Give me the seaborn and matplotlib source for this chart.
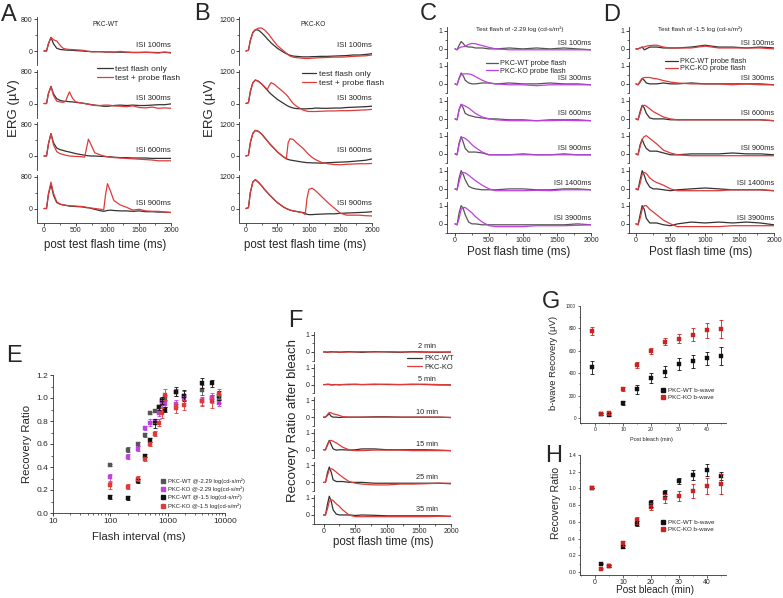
import seaborn as sns
import matplotlib.pyplot as plt
from matplotlib.lines import Line2D
from matplotlib.ticker import MultipleLocator, NullFormatter

W, H = 783, 598

# ---------- data ----------
# time grid for panels A/B (ms)
t_ab = [0, 40, 70, 110, 150, 200, 250, 300, 340, 370, 400, 450, 500, 600, 640, 670, 700,
        750, 800, 900, 940, 970, 1000, 1050, 1100, 1200, 1300, 1400, 1500, 1600, 1700,
        1800, 1900, 2000]
isi_ab = ['ISI 100ms', 'ISI 300ms', 'ISI 600ms', 'ISI 900ms']

# A: PKC-WT (uV)
a_test = [
    [0, 0, 180, 340, 180, 70, 40, 30, 25, 20, 20, 15, 10, 0, -5, -10, -10, -15, -15, -20, -20,
     -25, -25, -25, -30, -30, -30, -35, -35, -30, -35, -40, -30, -40],
    [0, 0, 250, 430, 240, 120, 80, 60, 55, 50, 45, 40, 30, 10, 0, -10, -15, -30, -40, -60, -70,
     -70, -70, -60, -50, -40, -50, -40, -50, -50, -40, -30, -30, -10],
    [0, 0, 300, 560, 330, 200, 160, 140, 120, 110, 100, 80, 60, 30, 20, 10, 5, 0, 0, -10, -10,
     -15, -20, -20, -30, -40, -40, -50, -50, -50, -60, -60, -60, -60],
    [0, 0, 350, 600, 330, 150, 110, 90, 80, 70, 60, 55, 50, 40, 30, 20, 20, 0, -20, -60, -70,
     -60, -50, -40, -50, -60, -60, -70, -60, -80, -80, -90, -90, -100],
]
a_probe = [
    [0, 0, 180, 340, 280, 250, 150, 70, 50, 45, 40, 35, 30, 20, 10, 0, -10, -20, -20, -15, -20,
     -25, -30, -20, -30, -10, -30, -40, -40, -35, -40, -50, -30, -50],
    [0, 0, 250, 420, 200, 60, 40, 30, 50, 180, 290, 130, 40, 10, 0, -10, -20, -35, -50, -50, -40,
     -40, -40, -45, -60, -70, -80, -60, -100, -110, -90, -120, -110, -120],
    [0, 0, 300, 560, 280, 110, 60, 40, 20, 10, 0, -5, -10, -20, -30, 200, 420, 250, 80, 20, 0,
     -10, -20, -30, -40, -50, -60, -70, -80, -90, -100, -120, -120, -120],
    [0, 0, 370, 660, 380, 170, 110, 90, 80, 75, 70, 65, 60, 50, 40, 30, 20, 10, 0, -20, -40,
     350, 620, 420, 200, 90, 30, -40, -20, -60, -70, -70, -90, -100],
]
# B: PKC-KO (uV)
b_test = [
    [0, 30, 400, 700, 800, 780, 680, 560, 450, 380, 300, 200, 100, -50, -100, -130, -160, -190,
     -200, -220, -220, -220, -220, -210, -210, -200, -200, -190, -180, -170, -150, -150, -130, -100],
    [0, 30, 450, 780, 880, 830, 730, 600, 500, 420, 350, 250, 150, 0, -60, -100, -130, -170,
     -190, -200, -200, -200, -190, -190, -170, -180, -180, -170, -170, -150, -140, -130, -120, -100],
    [0, 30, 500, 850, 960, 920, 820, 680, 570, 480, 400, 280, 150, -40, -100, -130, -150, -170,
     -190, -230, -240, -250, -250, -260, -260, -270, -250, -240, -230, -220, -200, -180, -160, -110],
    [0, 30, 600, 1000, 1080, 980, 850, 700, 600, 520, 450, 330, 220, 50, 0, -30, -60, -90,
     -110, -150, -170, -220, -230, -230, -220, -210, -200, -200, -180, -170, -160, -150, -140, -120],
]
b_probe = [
    [0, 30, 400, 680, 800, 860, 860, 780, 680, 600, 500, 350, 200, 0, -80, -140, -190, -230,
     -250, -270, -280, -280, -280, -270, -260, -250, -240, -230, -230, -220, -200, -190, -180, -150],
    [0, 30, 450, 780, 880, 830, 730, 620, 530, 680, 780, 720, 620, 420, 330, 250, 150, 0,
     -100, -240, -270, -290, -300, -300, -300, -290, -280, -280, -270, -270, -260, -250, -240, -220],
    [0, 30, 500, 850, 960, 920, 820, 680, 570, 480, 400, 280, 150, -40, -110, 500, 650, 620,
     500, 300, 200, 120, 50, -50, -130, -240, -290, -320, -330, -310, -300, -290, -290, -280],
    [0, 30, 600, 1000, 1080, 980, 850, 700, 600, 520, 450, 330, 220, 50, 0, -30, -60, -90,
     -110, -160, -230, 400, 720, 760, 680, 450, 220, 20, -180, -250, -250, -250, -270, -280],
]

# time grid for panels C/D/F (ms)
t_cdf = [0, 30, 60, 90, 120, 150, 200, 250, 300, 400, 500, 600, 800, 1000, 1200, 1400, 1600,
         1800, 2000]
isi_cd = ['ISI 100ms', 'ISI 300ms', 'ISI 600ms', 'ISI 900ms', 'ISI 1400ms', 'ISI 3900ms']

# C: test flash -2.29 log, normalised probe response
c_wt = [
    [0, -0.05, 0.2, 0.4, 0.3, 0.15, 0.1, 0.1, 0.05, 0.05, 0.0, 0.0, 0.05, 0.0, 0.05, 0.0, 0.05, 0.0, -0.05],
    [0, -0.05, 0.3, 0.6, 0.45, 0.2, 0.05, 0.0, 0.0, 0.05, 0.05, 0.0, 0.05, 0.0, 0.0, 0.05, 0.0, 0.0, -0.05],
    [0, -0.05, 0.5, 0.8, 0.6, 0.3, 0.2, 0.15, 0.1, 0.05, 0.0, 0.0, -0.05, -0.05, -0.1, -0.05, -0.05, -0.05, -0.1],
    [0, -0.05, 0.6, 0.95, 0.65, 0.3, 0.1, 0.1, 0.1, 0.05, -0.05, -0.05, -0.05, 0.0, -0.05, -0.05, 0.0, -0.05, -0.05],
    [0, -0.05, 0.6, 1.0, 0.8, 0.5, 0.15, 0.05, 0.0, -0.05, -0.05, -0.05, 0.0, 0.0, -0.05, -0.05, 0.0, 0.0, -0.05],
    [0, -0.05, 0.6, 1.0, 0.85, 0.5, 0.1, 0.0, 0.0, -0.05, -0.05, -0.05, -0.05, -0.05, -0.05, -0.05, -0.05, 0.0, -0.05],
]
c_ko = [
    [0, -0.05, 0.05, 0.1, 0.12, 0.15, 0.25, 0.3, 0.28, 0.18, 0.08, 0.0, -0.05, -0.05, -0.05, -0.05, -0.05, -0.05, -0.05],
    [0, -0.05, 0.3, 0.5, 0.55, 0.55, 0.55, 0.5, 0.4, 0.2, 0.05, 0.0, -0.05, -0.05, -0.1, -0.05, -0.05, -0.05, -0.05],
    [0, -0.05, 0.5, 0.8, 0.75, 0.7, 0.6, 0.45, 0.3, 0.1, 0.0, -0.05, -0.1, -0.1, -0.1, -0.1, -0.08, -0.1, -0.1],
    [0, -0.05, 0.5, 0.9, 0.9, 0.85, 0.7, 0.5, 0.35, 0.1, -0.05, -0.05, -0.05, -0.05, -0.05, -0.05, -0.05, -0.05, -0.05],
    [0, -0.05, 0.4, 0.8, 0.9, 0.88, 0.75, 0.6, 0.45, 0.2, 0.0, -0.1, -0.1, -0.1, -0.08, -0.1, -0.05, -0.05, -0.05],
    [0, -0.05, 0.3, 0.8, 0.9, 0.9, 0.75, 0.6, 0.4, 0.1, -0.1, -0.15, -0.15, -0.15, -0.1, -0.1, -0.1, -0.08, -0.05],
]
# D: test flash -1.5 log
d_wt = [
    [0, 0.0, 0.05, 0.1, -0.05, 0.0, 0.1, 0.1, 0.1, 0.05, 0.05, 0.05, 0.1, 0.2, 0.1, 0.1, 0.05, 0.1, 0.05],
    [0, -0.05, 0.1, 0.3, 0.2, 0.05, 0.0, 0.0, 0.0, 0.05, 0.0, 0.0, 0.05, 0.0, 0.0, 0.0, 0.0, 0.0, -0.05],
    [0, -0.05, 0.4, 0.75, 0.6, 0.3, 0.05, 0.0, 0.0, 0.0, -0.05, -0.05, -0.05, -0.05, -0.05, -0.05, -0.05, -0.05, -0.1],
    [0, -0.05, 0.5, 0.8, 0.5, 0.3, 0.15, 0.15, 0.15, 0.05, -0.05, -0.05, 0.0, 0.0, 0.0, 0.05, 0.0, 0.0, -0.05],
    [0, -0.05, 0.5, 1.0, 0.75, 0.4, 0.1, 0.0, 0.0, -0.05, -0.1, -0.05, 0.0, 0.05, 0.0, -0.05, -0.05, -0.05, -0.1],
    [0, -0.05, 0.5, 1.0, 0.8, 0.3, 0.05, 0.05, 0.05, -0.05, -0.1, 0.0, 0.1, 0.05, 0.1, 0.05, 0.1, 0.05, -0.05],
]
d_ko = [
    [0, 0.0, 0.05, 0.1, 0.1, 0.15, 0.18, 0.2, 0.2, 0.1, 0.05, 0.05, 0.05, 0.15, 0.05, 0.05, 0.05, 0.05, 0.0],
    [0, -0.05, 0.15, 0.3, 0.35, 0.35, 0.35, 0.3, 0.28, 0.18, 0.1, 0.05, 0.0, 0.0, 0.0, -0.05, 0.0, -0.05, -0.05],
    [0, -0.05, 0.3, 0.7, 0.75, 0.7, 0.55, 0.4, 0.3, 0.1, 0.0, -0.05, -0.05, -0.05, -0.05, -0.05, -0.05, -0.05, -0.1],
    [0, -0.05, 0.4, 0.8, 0.95, 1.0, 0.85, 0.7, 0.55, 0.2, 0.05, -0.05, -0.1, -0.1, -0.1, -0.1, -0.1, -0.1, -0.1],
    [0, -0.05, 0.3, 0.8, 0.9, 0.85, 0.6, 0.45, 0.35, 0.2, 0.0, -0.1, -0.1, -0.1, -0.1, -0.05, -0.05, -0.05, -0.1],
    [0, -0.05, 0.3, 0.8, 1.0, 1.0, 0.8, 0.65, 0.5, 0.2, 0.0, -0.15, -0.15, -0.15, -0.15, -0.1, -0.1, -0.1, -0.1],
]

# F: recovery after bleach
bleach_f = ['2 min', '5 min', '10 min', '15 min', '25 min', '35 min']
f_wt = [
    [0, 0.0, -0.02, 0.0, 0.02, 0.0, 0.0, -0.02, 0.0, 0.02, 0.0, -0.02, 0.02, 0.0, -0.02, 0.02, 0.0, -0.02, 0.0],
    [0, 0.0, 0.02, 0.0, -0.02, 0.0, 0.0, -0.02, 0.0, 0.0, 0.02, 0.0, 0.02, 0.0, 0.0, 0.02, 0.0, -0.02, -0.02],
    [0, 0.0, 0.1, 0.2, 0.05, 0.0, 0.0, -0.02, 0.0, 0.0, 0.0, 0.0, 0.02, 0.02, 0.0, 0.0, 0.0, 0.0, -0.02],
    [0, 0.0, 0.3, 0.55, 0.3, 0.05, -0.02, 0.0, 0.0, -0.02, 0.0, 0.05, 0.05, 0.0, 0.0, 0.0, 0.0, -0.02, -0.05],
    [0, 0.0, 0.55, 0.9, 0.6, 0.15, 0.05, 0.05, 0.05, 0.0, 0.0, 0.0, -0.05, -0.05, -0.05, -0.05, -0.05, -0.05, -0.08],
    [0, 0.0, 0.6, 1.1, 0.8, 0.3, 0.05, 0.0, 0.0, 0.0, -0.03, 0.0, -0.02, -0.05, -0.05, -0.05, -0.05, -0.05, -0.08],
]
f_ko = [
    [0, 0.0, 0.0, -0.02, 0.0, 0.02, 0.0, 0.0, -0.02, 0.0, 0.0, 0.02, 0.0, 0.02, 0.0, 0.0, -0.02, 0.0, -0.02],
    [0, 0.0, 0.0, 0.02, 0.0, -0.02, 0.0, 0.0, 0.0, 0.02, 0.0, 0.0, 0.0, 0.02, 0.0, 0.0, 0.02, 0.0, -0.02],
    [0, 0.0, 0.15, 0.28, 0.25, 0.2, 0.15, 0.1, 0.03, 0.0, 0.0, 0.0, 0.0, 0.0, 0.0, 0.0, 0.0, 0.0, -0.02],
    [0, 0.0, 0.25, 0.5, 0.55, 0.5, 0.4, 0.28, 0.15, 0.0, -0.05, -0.05, -0.02, -0.02, -0.02, -0.05, -0.05, -0.05, -0.05],
    [0, 0.0, 0.4, 0.75, 0.8, 0.75, 0.6, 0.45, 0.3, 0.05, -0.05, -0.1, -0.15, -0.15, -0.1, -0.1, -0.08, -0.05, -0.05],
    [0, 0.0, 0.35, 0.8, 0.9, 0.85, 0.65, 0.5, 0.3, 0.0, -0.1, -0.1, -0.1, -0.1, -0.1, -0.1, -0.1, -0.08, -0.08],
]

# E: recovery ratio vs flash interval
e_interval = [100, 200, 300, 400, 500, 600, 700, 800, 900, 1400, 1900, 3900, 5900, 7900]
e_wt229 = [0.415, 0.55, 0.60, 0.68, 0.87, 0.89, 0.92, 0.97, 1.00, 1.05, 1.02, 1.07, 1.00, 0.99]
e_wt229_err = [0.01, 0.02, 0.02, 0.02, 0.01, 0.01, 0.02, 0.03, 0.03, 0.03, 0.04, 0.04, 0.03, 0.03]
e_ko229 = [0.31, 0.49, 0.56, 0.74, 0.785, 0.80, 0.87, 0.95, 0.95, 0.95, 0.99, 0.97, 1.00, 0.96]
e_ko229_err = [0.03, 0.02, 0.02, 0.02, 0.03, 0.02, 0.03, 0.03, 0.03, 0.03, 0.03, 0.03, 0.04, 0.03]
e_wt15 = [0.14, 0.13, 0.28, 0.50, 0.635, 0.78, 0.92, 0.98, 0.90, 1.055, 1.02, 1.13, 1.13, 1.02]
e_wt15_err = [0.015, 0.02, 0.02, 0.01, 0.02, 0.04, 0.02, 0.03, 0.02, 0.04, 0.05, 0.04, 0.03, 0.04]
e_ko15 = [0.24, 0.23, 0.30, 0.47, 0.60, 0.69, 0.785, 0.87, 1.03, 0.91, 0.94, 0.97, 0.97, 1.035]
e_ko15_err = [0.03, 0.02, 0.02, 0.02, 0.02, 0.02, 0.03, 0.04, 0.05, 0.04, 0.04, 0.04, 0.06, 0.04]
e_labels = ['PKC-WT @-2.29 log(cd-s/m\u00b2)', 'PKC-KO @-2.29 log(cd-s/m\u00b2)',
            'PKC-WT @-1.5 log(cd-s/m\u00b2)', 'PKC-KO @-1.5 log(cd-s/m\u00b2)']
e_xticks = [10, 100, 1000, 10000]

# G/H: b-wave recovery after bleach
g_time = [-1, 2, 5, 10, 15, 20, 25, 30, 35, 40, 45]
g_wt = [451, 35, 30, 132, 257, 359, 413, 481, 505, 532, 556]
g_wt_err = [60, 10, 15, 20, 40, 45, 50, 55, 55, 60, 80]
g_ko = [780, 33, 40, 260, 473, 598, 682, 706, 745, 783, 798]
g_ko_err = [35, 10, 10, 20, 25, 25, 30, 40, 55, 65, 80]
h_wt = [1.0, 0.10, 0.07, 0.305, 0.575, 0.82, 0.945, 1.09, 1.16, 1.22, 1.15]
h_wt_err = [0.0, 0.01, 0.01, 0.02, 0.03, 0.04, 0.04, 0.04, 0.06, 0.07, 0.05]
h_ko = [1.0, 0.04, 0.07, 0.345, 0.62, 0.78, 0.88, 0.91, 0.97, 1.03, 1.05]
h_ko_err = [0.0, 0.01, 0.01, 0.03, 0.04, 0.04, 0.05, 0.065, 0.08, 0.1, 0.12]

# ---------- style ----------
sns.set_style("ticks")
plt.rcParams['font.family'] = ['Liberation Sans', 'DejaVu Sans']
plt.rcParams['axes.linewidth'] = 0.6
plt.rcParams['axes.edgecolor'] = '#333333'

BLACK = '#333333'
GREY = '#555555'
RED = '#e03a3a'
PURPLE = '#c040e0'

fig = plt.figure(figsize=(W / 100, H / 100), dpi=100)


def box(l, t, r, b):
    return fig.add_axes([l / W, 1 - b / H, (r - l) / W, (b - t) / H])


def ftext(x, y, s, **kw):
    return fig.text(x / W, 1 - y / H, s, **kw)


def flegend(handles, labels, x, y, fs, **kw):
    fig.legend(handles, labels, loc='upper left', bbox_to_anchor=(x / W, 1 - y / H),
               frameon=False, fontsize=fs, borderpad=0, borderaxespad=0, **kw)


def stack(l, r, top0, pitch, h, x0, ylim, ytop, t, groups, labels,
          lab_x=2000, lab_ha='right', fs=5.3, tick_fs=5):
    n = len(labels)
    for i in range(n):
        top = top0 + i * pitch
        ax = box(l, top, r, top + h)
        ax.patch.set_alpha(0)
        for vals, col in groups:
            sns.lineplot(x=t, y=vals[i], ax=ax, color=col, lw=0.9)
        ax.set(xlim=(x0, 2000), ylim=ylim, xlabel='', ylabel='')
        ax.set_yticks([0, ytop])
        ax.yaxis.set_minor_locator(MultipleLocator(ytop / 2))
        last = i == n - 1
        sns.despine(ax=ax, bottom=not last)
        if last:
            ax.set_xticks([0, 500, 1000, 1500, 2000])
            ax.xaxis.set_minor_locator(MultipleLocator(250))
        else:
            ax.set_xticks([])
        ax.tick_params(labelsize=tick_fs, length=2, width=0.6, pad=1)
        ax.tick_params(which='minor', length=1.2, width=0.5)
        ax.annotate(labels[i], xy=(lab_x, 0), xytext=(0, 1.2), textcoords='offset points',
                    ha=lab_ha, va='bottom', fontsize=fs)


# ---------- A & B ----------
stack(37, 171, 17, 52.5, 48, -110, (-350, 850), 800, t_ab,
      [(a_test, BLACK), (a_probe, RED)], isi_ab, fs=5.6)
stack(239, 372, 17, 52.5, 48, -110, (-525, 1275), 1200, t_ab,
      [(b_test, BLACK), (b_probe, RED)], isi_ab, fs=5.6)
ftext(106, 24, 'PKC-WT', ha='center', va='center', fontsize=4.8)
ftext(313, 24, 'PKC-KO', ha='center', va='center', fontsize=4.8)
ab_handles = [Line2D([], [], color=BLACK, lw=0.9), Line2D([], [], color=RED, lw=0.9)]
flegend(ab_handles, ['test flash only', 'test + probe flash'], 97, 65, 6.0,
        handlelength=1.9, handletextpad=0.3, labelspacing=0.15)
flegend(ab_handles, ['test flash only', 'test + probe flash'], 302, 70, 6.0,
        handlelength=1.7, handletextpad=0.3, labelspacing=0.15)
for x in (14, 210):
    ftext(x, 108, 'ERG (\u00b5V)', rotation=90, ha='center', va='center', fontsize=9.5)
ftext(105, 245, 'post test flash time (ms)', ha='center', va='center', fontsize=8.3)
ftext(305, 245, 'post test flash time (ms)', ha='center', va='center', fontsize=8.3)

# ---------- C & D ----------
stack(447, 591, 27, 35, 31, -118, (-0.5, 1.2), 1, t_cdf,
      [(c_wt, GREY), (c_ko, PURPLE)], isi_cd)
stack(629, 774, 27, 35, 31, -101, (-0.5, 1.2), 1, t_cdf,
      [(d_wt, BLACK), (d_ko, RED)], isi_cd)
ftext(520, 29, 'Test flash of -2.29 log (cd-s/m\u00b2)', ha='center', va='center', fontsize=4.6)
ftext(700, 29, 'Test flash of -1.5 log (cd-s/m\u00b2)', ha='center', va='center', fontsize=4.6)
flegend([Line2D([], [], color=GREY, lw=0.9), Line2D([], [], color=PURPLE, lw=0.9)],
        ['PKC-WT probe flash', 'PKC-KO probe flash'], 486, 60, 5.2,
        handlelength=1.7, handletextpad=0.3, labelspacing=0.1)
flegend([Line2D([], [], color=BLACK, lw=0.9), Line2D([], [], color=RED, lw=0.9)],
        ['PKC-WT probe flash', 'PKC-KO probe flash'], 665, 58, 5.2,
        handlelength=1.8, handletextpad=0.3, labelspacing=0.0)
ftext(519, 252, 'Post flash time (ms)', ha='center', va='center', fontsize=8.4)
ftext(701, 252, 'Post flash time (ms)', ha='center', va='center', fontsize=8.4)

# ---------- E ----------
ax = box(53, 375, 225, 513)
e_sets = [(e_wt229, e_wt229_err, GREY), (e_ko229, e_ko229_err, PURPLE),
          (e_wt15, e_wt15_err, '#111111'), (e_ko15, e_ko15_err, RED)]
for vals, errs, col in e_sets:
    ax.errorbar(e_interval, vals, yerr=errs, fmt='none', ecolor=col, elinewidth=0.6,
                capsize=1.3, capthick=0.6)
    sns.scatterplot(x=e_interval, y=vals, ax=ax, marker='s', s=7, color=col,
                    edgecolor=col, linewidth=0.3)
ax.set_xscale('log')
ax.set(xlim=(10, 10000), ylim=(0, 1.2), xlabel='', ylabel='')
ax.set_xticks(e_xticks)
ax.set_xticklabels([str(v) for v in e_xticks])
ax.xaxis.set_minor_formatter(NullFormatter())
ax.set_yticks([0, 0.2, 0.4, 0.6, 0.8, 1.0, 1.2])
ax.set_yticklabels(['0.0', '0.2', '0.4', '0.6', '0.8', '1.0', '1.2'])
ax.yaxis.set_minor_locator(MultipleLocator(0.1))
sns.despine(ax=ax)
ax.tick_params(labelsize=6, length=2, width=0.6, pad=1.5)
ax.tick_params(which='minor', length=1.2, width=0.5)
flegend([Line2D([], [], ls='none', marker='s', ms=2.3, color=c) for _, _, c in e_sets],
        e_labels, 160, 478, 4.2, handlelength=1.0, handletextpad=0.3, labelspacing=0.45)
ftext(139, 537, 'Flash interval (ms)', ha='center', va='center', fontsize=8.2)
ftext(27, 444, 'Recovery Ratio', rotation=90, ha='center', va='center', fontsize=8.2)

# ---------- F ----------
stack(314, 451, 331.5, 32.6, 29, -150, (-0.5, 1.2), 1, t_cdf,
      [(f_wt, BLACK), (f_ko, RED)], bleach_f, lab_x=1620, lab_ha='center', fs=5.3)
flegend([Line2D([], [], color=BLACK, lw=0.9), Line2D([], [], color=RED, lw=0.9)],
        ['PKC-WT', 'PKC-KO'], 407, 355, 5.4,
        handlelength=2.0, handletextpad=0.3, labelspacing=0.2)
ftext(383, 542, 'post flash time (ms)', ha='center', va='center', fontsize=8.3)
ftext(293, 420, 'Recovery Ratio after bleach', rotation=90, ha='center', va='center',
      fontsize=9.5)

# ---------- G ----------
ax = box(580, 306, 726, 423)
for vals, errs, col in [(g_wt, g_wt_err, '#111111'), (g_ko, g_ko_err, '#cc2222')]:
    ax.errorbar(g_time, vals, yerr=errs, fmt='none', ecolor=col, elinewidth=0.6,
                capsize=1.2, capthick=0.6)
    sns.scatterplot(x=g_time, y=vals, ax=ax, marker='s', s=6, color=col, edgecolor=col,
                    linewidth=0.3)
ax.set(xlim=(-5.4, 46.8), ylim=(-45, 1000), xlabel='', ylabel='')
ax.set_yticks([0, 200, 400, 600, 800, 1000])
ax.set_xticks([0, 10, 20, 30, 40])
ax.xaxis.set_minor_locator(MultipleLocator(5))
ax.yaxis.set_minor_locator(MultipleLocator(100))
sns.despine(ax=ax)
ax.tick_params(axis='y', labelsize=3.3, length=1.8, width=0.5, pad=1)
ax.tick_params(axis='x', labelsize=3.8, length=1.8, width=0.5, pad=1)
ax.tick_params(which='minor', length=1.0, width=0.4)
gh_handles = [Line2D([], [], ls='none', marker='s', ms=2.2, color='#111111'),
              Line2D([], [], ls='none', marker='s', ms=2.2, color='#cc2222')]
flegend(gh_handles, ['PKC-WT b-wave', 'PKC-KO b-wave'], 660, 388, 4.5,
        handlelength=1.0, handletextpad=0.3, labelspacing=0.25)
ftext(651, 439, 'Post bleach (min)', ha='center', va='center', fontsize=4)
ftext(553, 363, 'b-wave Recovery (\u03bcV)', rotation=90, ha='center', va='center',
      fontsize=6.8)

# ---------- H ----------
ax = box(580, 455, 726, 575)
for vals, errs, col in [(h_wt, h_wt_err, '#111111'), (h_ko, h_ko_err, '#cc2222')]:
    ax.errorbar(g_time, vals, yerr=errs, fmt='none', ecolor=col, elinewidth=0.6,
                capsize=1.2, capthick=0.6)
    sns.scatterplot(x=g_time, y=vals, ax=ax, marker='s', s=6, color=col, edgecolor=col,
                    linewidth=0.3)
ax.set(xlim=(-5.4, 46.8), ylim=(-0.036, 1.4), xlabel='', ylabel='')
ax.set_yticks([0, 0.2, 0.4, 0.6, 0.8, 1.0, 1.2, 1.4])
ax.set_yticklabels(['0.0', '0.2', '0.4', '0.6', '0.8', '1.0', '1.2', '1.4'])
ax.set_xticks([0, 10, 20, 30, 40])
ax.xaxis.set_minor_locator(MultipleLocator(5))
ax.yaxis.set_minor_locator(MultipleLocator(0.1))
sns.despine(ax=ax)
ax.tick_params(axis='y', labelsize=4, length=1.8, width=0.5, pad=1)
ax.tick_params(axis='x', labelsize=5, length=1.8, width=0.5, pad=1)
ax.tick_params(which='minor', length=1.0, width=0.4)
flegend(gh_handles, ['PKC-WT b-wave', 'PKC-KO b-wave'], 660, 520, 4.5,
        handlelength=1.0, handletextpad=0.3, labelspacing=0.25)
ftext(655, 590, 'Post bleach (min)', ha='center', va='center', fontsize=7.2)
ftext(556, 503, 'Recovery Ratio', rotation=90, ha='center', va='center', fontsize=7.6)

# ---------- panel letters ----------
for letter, x, y in [('A', 9, 21), ('B', 202, 20), ('C', 428, 20), ('D', 612, 21),
                     ('E', 14, 362), ('F', 295, 327), ('G', 551, 308), ('H', 554, 462)]:
    ftext(x, y, letter, ha='center', va='baseline', fontsize=17)

fig.savefig('out.png', dpi=100)
